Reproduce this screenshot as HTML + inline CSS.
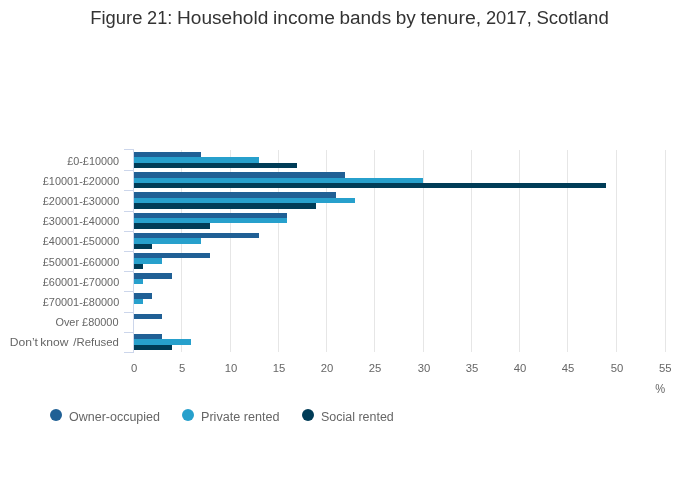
<!DOCTYPE html>
<html lang="en"><head><meta charset="utf-8"><title>Figure 21: Household income bands by tenure, 2017, Scotland</title>
<style>html,body{margin:0;padding:0;background:#fff}body{width:700px;height:502px;overflow:hidden}svg{display:block}text{font-family:"Liberation Sans",sans-serif}.t{font-size:18px;fill:#333}.a{font-size:11px;fill:#666}.l{font-size:12px;fill:#666}</style></head><body>
<svg width="700" height="502" viewBox="0 0 700 502">
<rect x="0" y="0" width="700" height="502" fill="#fff"/>
<text class="t" y="24" xml:space="preserve"><tspan x="90.30" textLength="52.11" lengthAdjust="spacingAndGlyphs">Figure</tspan> <tspan x="147.09" textLength="25.31" lengthAdjust="spacingAndGlyphs">21:</tspan> <tspan x="177.07" textLength="91.25" lengthAdjust="spacingAndGlyphs">Household</tspan> <tspan x="273.00" textLength="61.8" lengthAdjust="spacingAndGlyphs">income</tspan> <tspan x="339.48" textLength="51.64" lengthAdjust="spacingAndGlyphs">bands</tspan> <tspan x="395.80" textLength="20.03" lengthAdjust="spacingAndGlyphs">by</tspan> <tspan x="420.51" textLength="60.72" lengthAdjust="spacingAndGlyphs">tenure,</tspan> <tspan x="485.90" textLength="45.83" lengthAdjust="spacingAndGlyphs">2017,</tspan> <tspan x="536.41" textLength="72.33" lengthAdjust="spacingAndGlyphs">Scotland</tspan></text>
<g shape-rendering="crispEdges">
<rect x="181" y="150" width="1" height="202" fill="#e6e6e6"/>
<rect x="230" y="150" width="1" height="202" fill="#e6e6e6"/>
<rect x="278" y="150" width="1" height="202" fill="#e6e6e6"/>
<rect x="326" y="150" width="1" height="202" fill="#e6e6e6"/>
<rect x="374" y="150" width="1" height="202" fill="#e6e6e6"/>
<rect x="423" y="150" width="1" height="202" fill="#e6e6e6"/>
<rect x="471" y="150" width="1" height="202" fill="#e6e6e6"/>
<rect x="519" y="150" width="1" height="202" fill="#e6e6e6"/>
<rect x="567" y="150" width="1" height="202" fill="#e6e6e6"/>
<rect x="616" y="150" width="1" height="202" fill="#e6e6e6"/>
<rect x="665" y="150" width="1" height="202" fill="#e6e6e6"/>
<rect x="134" y="152" width="67" height="5" fill="#206095"/>
<rect x="134" y="157" width="125" height="6" fill="#27a0cc"/>
<rect x="134" y="163" width="163" height="5" fill="#003c57"/>
<rect x="134" y="172" width="211" height="6" fill="#206095"/>
<rect x="134" y="178" width="289" height="5" fill="#27a0cc"/>
<rect x="134" y="183" width="472" height="5" fill="#003c57"/>
<rect x="134" y="192" width="202" height="6" fill="#206095"/>
<rect x="134" y="198" width="221" height="5" fill="#27a0cc"/>
<rect x="134" y="203" width="182" height="6" fill="#003c57"/>
<rect x="134" y="213" width="153" height="5" fill="#206095"/>
<rect x="134" y="218" width="153" height="5" fill="#27a0cc"/>
<rect x="134" y="223" width="76" height="6" fill="#003c57"/>
<rect x="134" y="233" width="125" height="5" fill="#206095"/>
<rect x="134" y="238" width="67" height="6" fill="#27a0cc"/>
<rect x="134" y="244" width="18" height="5" fill="#003c57"/>
<rect x="134" y="253" width="76" height="5" fill="#206095"/>
<rect x="134" y="258" width="28" height="6" fill="#27a0cc"/>
<rect x="134" y="264" width="9" height="5" fill="#003c57"/>
<rect x="134" y="273" width="38" height="6" fill="#206095"/>
<rect x="134" y="279" width="9" height="5" fill="#27a0cc"/>
<rect x="134" y="293" width="18" height="6" fill="#206095"/>
<rect x="134" y="299" width="9" height="5" fill="#27a0cc"/>
<rect x="134" y="314" width="28" height="5" fill="#206095"/>
<rect x="134" y="334" width="28" height="5" fill="#206095"/>
<rect x="134" y="339" width="57" height="6" fill="#27a0cc"/>
<rect x="134" y="345" width="38" height="5" fill="#003c57"/>
<rect x="133" y="149" width="1" height="204" fill="#ccd6eb"/>
<rect x="124" y="149" width="10" height="1" fill="#ccd6eb"/>
<rect x="124" y="170" width="10" height="1" fill="#ccd6eb"/>
<rect x="124" y="190" width="10" height="1" fill="#ccd6eb"/>
<rect x="124" y="211" width="10" height="1" fill="#ccd6eb"/>
<rect x="124" y="231" width="10" height="1" fill="#ccd6eb"/>
<rect x="124" y="251" width="10" height="1" fill="#ccd6eb"/>
<rect x="124" y="271" width="10" height="1" fill="#ccd6eb"/>
<rect x="124" y="291" width="10" height="1" fill="#ccd6eb"/>
<rect x="124" y="312" width="10" height="1" fill="#ccd6eb"/>
<rect x="124" y="332" width="10" height="1" fill="#ccd6eb"/>
<rect x="124" y="352" width="10" height="1" fill="#ccd6eb"/>
</g>
<g class="a">
<text x="67.2" y="165.0" textLength="51.85" lengthAdjust="spacingAndGlyphs">£0-£10000</text>
<text x="42.8" y="185.1" textLength="76.4" lengthAdjust="spacingAndGlyphs">£10001-£20000</text>
<text x="42.8" y="205.2" textLength="76.4" lengthAdjust="spacingAndGlyphs">£20001-£30000</text>
<text x="42.8" y="225.3" textLength="76.4" lengthAdjust="spacingAndGlyphs">£30001-£40000</text>
<text x="42.8" y="245.4" textLength="76.4" lengthAdjust="spacingAndGlyphs">£40001-£50000</text>
<text x="42.8" y="265.5" textLength="76.4" lengthAdjust="spacingAndGlyphs">£50001-£60000</text>
<text x="42.8" y="285.6" textLength="76.4" lengthAdjust="spacingAndGlyphs">£60001-£70000</text>
<text x="42.8" y="305.7" textLength="76.4" lengthAdjust="spacingAndGlyphs">£70001-£80000</text>
<text x="55.4" y="325.8" textLength="63.1" lengthAdjust="spacingAndGlyphs">Over £80000</text>
<text y="345.9" xml:space="preserve"><tspan x="9.7" textLength="28.3" lengthAdjust="spacingAndGlyphs">Don’t</tspan> <tspan x="40.3" textLength="28.2" lengthAdjust="spacingAndGlyphs">know</tspan> <tspan x="73.3" textLength="45.5" lengthAdjust="spacingAndGlyphs">/Refused</tspan></text>
<text x="130.9" y="372" textLength="6.29" lengthAdjust="spacingAndGlyphs">0</text>
<text x="178.9" y="372" textLength="6.29" lengthAdjust="spacingAndGlyphs">5</text>
<text x="224.7" y="372" textLength="12.58" lengthAdjust="spacingAndGlyphs">10</text>
<text x="272.7" y="372" textLength="12.58" lengthAdjust="spacingAndGlyphs">15</text>
<text x="320.7" y="372" textLength="12.58" lengthAdjust="spacingAndGlyphs">20</text>
<text x="368.7" y="372" textLength="12.58" lengthAdjust="spacingAndGlyphs">25</text>
<text x="417.7" y="372" textLength="12.58" lengthAdjust="spacingAndGlyphs">30</text>
<text x="465.7" y="372" textLength="12.58" lengthAdjust="spacingAndGlyphs">35</text>
<text x="513.7" y="372" textLength="12.58" lengthAdjust="spacingAndGlyphs">40</text>
<text x="561.7" y="372" textLength="12.58" lengthAdjust="spacingAndGlyphs">45</text>
<text x="610.7" y="372" textLength="12.58" lengthAdjust="spacingAndGlyphs">50</text>
<text x="658.9" y="372" textLength="12.58" lengthAdjust="spacingAndGlyphs">55</text>
</g>
<text class="l" x="655.3" y="393" textLength="9.9" lengthAdjust="spacingAndGlyphs">%</text>
<circle cx="56" cy="415" r="6" fill="#206095"/>
<text class="l" x="69" y="421" textLength="91.0" lengthAdjust="spacingAndGlyphs">Owner-occupied</text>
<circle cx="188" cy="415" r="6" fill="#27a0cc"/>
<text class="l" x="201" y="421" textLength="78.5" lengthAdjust="spacingAndGlyphs">Private rented</text>
<circle cx="308" cy="415" r="6" fill="#003c57"/>
<text class="l" x="321" y="421" textLength="72.75" lengthAdjust="spacingAndGlyphs">Social rented</text>
</svg></body></html>
